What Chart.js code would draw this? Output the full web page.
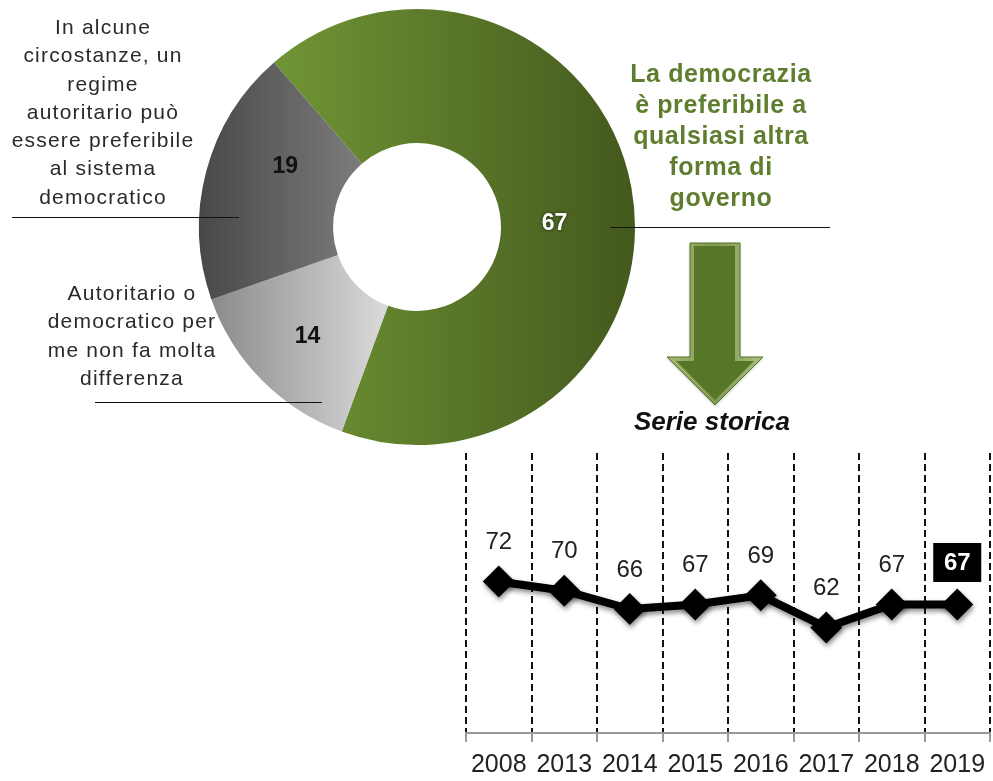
<!DOCTYPE html>
<html lang="it">
<head>
<meta charset="utf-8">
<title>Democrazia e regimi autoritari</title>
<script src="https://cdn.jsdelivr.net/npm/chart.js@4.4.1/dist/chart.umd.min.js"></script>
<style>
  html, body { margin: 0; padding: 0; background: #fff; width: 993px; height: 781px; overflow: hidden; }
  #wrap { position: relative; width: 993px; height: 781px; overflow: hidden; }
  canvas { position: absolute; }
  #pie { left: 0; top: 0; }
  #trend { left: 440px; top: 430px; }
  .note { position: absolute; text-align: center; font-family: "Liberation Sans", Arial, sans-serif; }
  .grey { font-size: 21px; line-height: 28.3px; color: #2a2a2a; letter-spacing: 1.2px; }
  .green { font-size: 25px; line-height: 31px; color: #5f7d2e; font-weight: bold; letter-spacing: 0.6px; }
  .title { font-size: 26px; line-height: 30px; font-weight: bold; font-style: italic; color: #111; }
  .rule { position: absolute; height: 0; border-top: 1.5px solid #111; }
</style>
</head>
<body>
<div id="wrap">
  <canvas id="pie" width="993" height="781"></canvas>
  <canvas id="trend" width="566" height="361"></canvas>

  <div class="note grey" style="left:-17px; top:13px; width:240px;">In alcune<br>circostanze, un<br>regime<br>autoritario può<br>essere preferibile<br>al sistema<br>democratico</div>
  <div class="note grey" style="left:12px; top:279px; width:240px;">Autoritario o<br>democratico per<br>me non fa molta<br>differenza</div>
  <div class="note green" style="left:601px; top:58px; width:240px;">La democrazia<br>è preferibile a<br>qualsiasi altra<br>forma di<br>governo</div>
  <div class="note title" style="left:592px; top:406px; width:240px;">Serie storica</div>

  <div class="rule" style="left:12px; top:217px; width:227px;"></div>
  <div class="rule" style="left:95px; top:402px; width:227px;"></div>
  <div class="rule" style="left:610px; top:227px; width:220px;"></div>
</div>

<script>
// Opinion shares (%), in drawing order clockwise from the upper-left
const shareLabels = [
  'La democrazia è preferibile a qualsiasi altra forma di governo',
  'Autoritario o democratico per me non fa molta differenza',
  'In alcune circostanze, un regime autoritario può essere preferibile al sistema democratico'
];
const shareValues = [67, 14, 19];

// Historical series for the first answer
const years = ['2008', '2013', '2014', '2015', '2016', '2017', '2018', '2019'];
const trendValues = [72, 70, 66, 67, 69, 62, 67, 67];

const FONT = '"Liberation Sans", Arial, sans-serif';

// Each slice gets its own left-to-right shading
const sliceShades = [['#729836', '#44591d'], ['#8a8a8a', '#d9d9d9'], ['#484848', '#7c7c7c']];
const sliceSpan = [[-0.75, 1], [-0.95, -0.15], [-1, -0.25]];

function sliceFill(c) {
  const chart = c.chart, a = chart.chartArea, i = c.dataIndex;
  if (!a) return sliceShades[i][0];
  const cx = (a.left + a.right) / 2;
  const r = Math.min(a.right - a.left, a.bottom - a.top) / 2;
  const g = chart.ctx.createLinearGradient(cx + sliceSpan[i][0] * r, 0, cx + sliceSpan[i][1] * r, 0);
  g.addColorStop(0, sliceShades[i][0]);
  g.addColorStop(1, sliceShades[i][1]);
  return g;
}

// Value printed inside every slice, placed along the slice's own arc
const sliceLabels = {
  id: 'sliceLabels',
  afterDatasetsDraw(chart, args, o) {
    const ctx = chart.ctx;
    const vals = chart.data.datasets[0].data;
    chart.getDatasetMeta(0).data.forEach((arc, i) => {
      const p = arc.getProps(['x', 'y', 'startAngle', 'endAngle', 'innerRadius', 'outerRadius'], true);
      const ang = p.startAngle + (p.endAngle - p.startAngle) * o.along[i];
      const rad = p.innerRadius + (p.outerRadius - p.innerRadius) * o.across[i];
      ctx.save();
      ctx.font = 'bold 23px ' + FONT;
      ctx.textAlign = 'center';
      ctx.textBaseline = 'middle';
      ctx.fillStyle = o.colors[i];
      if (o.glow[i]) { ctx.shadowColor = 'rgba(0,0,0,0.7)'; ctx.shadowBlur = 3; }
      ctx.fillText(String(vals[i]), p.x + Math.cos(ang) * rad, p.y + Math.sin(ang) * rad);
      ctx.restore();
    });
  }
};

// Bevelled arrow pointing from the doughnut down to the series
const downArrow = {
  id: 'downArrow',
  afterDraw(chart) {
    const ctx = chart.ctx;
    const outer = [[690, 243], [740, 243], [740, 357], [763, 357], [715, 405], [667, 357], [690, 357]];
    const inner = [[694, 246], [735, 246], [735, 361], [754, 361], [715, 400], [676, 361], [694, 361]];
    const path = pts => { ctx.beginPath(); pts.forEach(([x, y], k) => k ? ctx.lineTo(x, y) : ctx.moveTo(x, y)); ctx.closePath(); };
    ctx.save();
    path(outer);
    const g = ctx.createLinearGradient(667, 0, 763, 0);
    g.addColorStop(0, '#9fb872'); g.addColorStop(0.5, '#7f9a52'); g.addColorStop(1, '#a9bf80');
    ctx.fillStyle = g;
    ctx.shadowColor = 'rgba(0,0,0,0.25)'; ctx.shadowBlur = 3; ctx.shadowOffsetY = 1;
    ctx.fill();
    ctx.shadowColor = 'transparent';
    ctx.strokeStyle = '#55712a'; ctx.lineWidth = 1; ctx.stroke();
    path(inner);
    ctx.fillStyle = '#587628';
    ctx.fill();
    ctx.restore();
  }
};

new Chart(document.getElementById('pie'), {
  type: 'doughnut',
  data: {
    labels: shareLabels,
    datasets: [{ data: shareValues, backgroundColor: sliceFill, borderWidth: 0 }]
  },
  options: {
    responsive: false,
    animation: false,
    events: [],
    rotation: -41,
    cutout: '38.5%',
    layout: { padding: { left: 199, top: 9, right: 358, bottom: 336 } },
    plugins: {
      legend: { display: false },
      tooltip: { enabled: false },
      sliceLabels: {
        along: [0.538, 0.49, 0.643],
        across: [0.40, 0.53, 0.455],
        colors: ['#ffffff', '#111111', '#111111'],
        glow: [true, false, false]
      }
    }
  },
  plugins: [sliceLabels, downArrow]
});

// Soft drop shadow under the series line
const lineShadow = {
  id: 'lineShadow',
  beforeDatasetsDraw(chart) {
    const c = chart.ctx;
    c.save();
    c.shadowColor = 'rgba(0,0,0,0.45)';
    c.shadowBlur = 5;
    c.shadowOffsetX = 1;
    c.shadowOffsetY = 3;
  },
  afterDatasetsDraw(chart) { chart.ctx.restore(); }
};

// Value above each year; the latest one sits in a black box
const valueLabels = {
  id: 'valueLabels',
  afterDatasetsDraw(chart, args, o) {
    const ctx = chart.ctx;
    const vals = chart.data.datasets[0].data;
    chart.getDatasetMeta(0).data.forEach((pt, i) => {
      const last = i === vals.length - 1;
      const x = pt.x, y = pt.y - (last ? o.boxLift : o.lift);
      const txt = String(vals[i]);
      ctx.save();
      ctx.textAlign = 'center';
      ctx.textBaseline = 'middle';
      if (last) {
        ctx.fillStyle = '#000';
        ctx.fillRect(x - 24, y - 19.5, 48, 39);
        ctx.font = 'bold 24px ' + FONT;
        ctx.fillStyle = '#fff';
        ctx.fillText(txt, x, y + 1);
      } else {
        ctx.font = '24px ' + FONT;
        ctx.fillStyle = '#222';
        ctx.fillText(txt, x, y);
      }
      ctx.restore();
    });
  }
};

new Chart(document.getElementById('trend'), {
  type: 'line',
  data: {
    labels: years,
    datasets: [{
      data: trendValues,
      borderColor: '#000',
      borderWidth: 8,
      tension: 0,
      pointStyle: 'rectRot',
      pointRadius: 16,
      pointBackgroundColor: '#000',
      pointBorderColor: '#000',
      pointBorderWidth: 0,
      clip: false
    }]
  },
  options: {
    responsive: false,
    animation: false,
    events: [],
    layout: { padding: { left: 26, right: 3, top: 23, bottom: 3 } },
    plugins: {
      legend: { display: false },
      tooltip: { enabled: false },
      valueLabels: { lift: 39, boxLift: 42 }
    },
    scales: {
      x: {
        offset: true,
        grid: {
          offset: true,
          color: '#111',
          lineWidth: 2,
          drawTicks: true,
          tickLength: 9,
          tickColor: '#999',
          tickWidth: 2
        },
        border: { display: true, color: '#999', width: 2, dash: [7, 4] },
        ticks: { font: { family: FONT, size: 25 }, color: '#222', padding: 8, maxRotation: 0, autoSkip: false }
      },
      y: { display: false, min: 39, max: 100 }
    }
  },
  plugins: [lineShadow, valueLabels]
});
</script>
</body>
</html>
